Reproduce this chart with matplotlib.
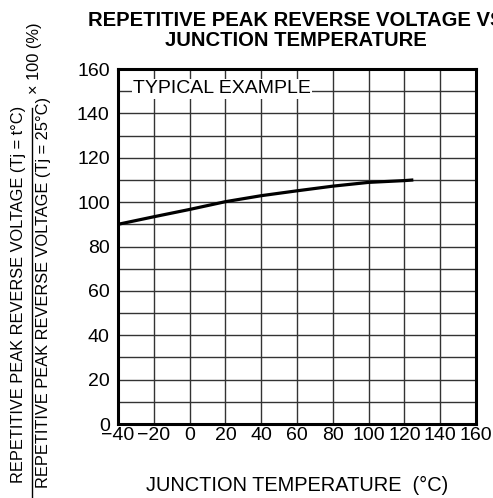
import numpy as np
import matplotlib
matplotlib.use('Agg')
import matplotlib.pyplot as plt
from matplotlib.lines import Line2D

plt.rcParams['font.family'] = ['Liberation Sans', 'DejaVu Sans']

# data
temp = [-40, -20, 0, 20, 40, 60, 80, 100, 120, 125]
ratio = [90, 93.4, 96.7, 100.2, 102.9, 105.1, 107.2, 108.9, 109.7, 110]

xticks = [-40, -20, 0, 20, 40, 60, 80, 100, 120, 140, 160]
xlabels = ['\u221240', '\u221220', '0', '20', '40', '60', '80', '100', '120', '140', '160']
yticks = [0, 20, 40, 60, 80, 100, 120, 140, 160]

W, H = 493, 498
fig = plt.figure(figsize=(W / 100, H / 100), dpi=100)
ax = fig.add_axes([118 / W, 1 - 424 / H, (476 - 118) / W, (424 - 69) / H])

ax.set_xlim(-40, 160)
ax.set_ylim(0, 160)
ax.set_xticks(xticks)
ax.set_xticklabels(xlabels)
ax.set_yticks(yticks)
ax.set_yticks(np.arange(10, 160, 20), minor=True)
ax.grid(which='both', color='#333333', linewidth=1.0)
ax.tick_params(which='both', length=0, labelsize=14, colors='black')
ax.tick_params(axis='x', pad=2)
ax.tick_params(axis='y', pad=6)
for s in ax.spines.values():
    s.set_linewidth(2.2)
    s.set_zorder(5)

ax.plot(temp, ratio, color='black', linewidth=2.3, solid_capstyle='butt', zorder=4)

ax.text(-31.5, 151, 'TYPICAL EXAMPLE', fontsize=14, va='center', ha='left',
        bbox=dict(facecolor='white', edgecolor='none', pad=1.0), zorder=3)

fig.text(296 / W, 1 - 21 / H, 'REPETITIVE PEAK REVERSE VOLTAGE VS', fontsize=14.6,
         fontweight='bold', ha='center', va='center')
fig.text(296 / W, 1 - 41 / H, 'JUNCTION TEMPERATURE', fontsize=14.6,
         fontweight='bold', ha='center', va='center')

fig.text(297 / W, 1 - 485 / H, 'JUNCTION TEMPERATURE  (\u00b0C)', fontsize=14.4,
         ha='center', va='center')

# y label as a fraction
fig.text(19 / W, 1 - 294 / H, 'REPETITIVE PEAK REVERSE VOLTAGE (Tj = t\u00b0C)',
         fontsize=11.8, rotation=90, ha='center', va='center')
fig.text(44 / W, 1 - 292 / H, 'REPETITIVE PEAK REVERSE VOLTAGE (Tj = 25\u00b0C)',
         fontsize=11.8, rotation=90, ha='center', va='center')
fig.add_artist(Line2D([31.5 / W, 31.5 / W], [1 - 498 / H, 1 - 108 / H],
                      color='black', linewidth=1.0, transform=fig.transFigure))
fig.text(34 / W, 1 - 58 / H, '\u00d7 100 (%)', fontsize=11.8, rotation=90,
         ha='center', va='center')

fig.savefig('out.png', dpi=100)
